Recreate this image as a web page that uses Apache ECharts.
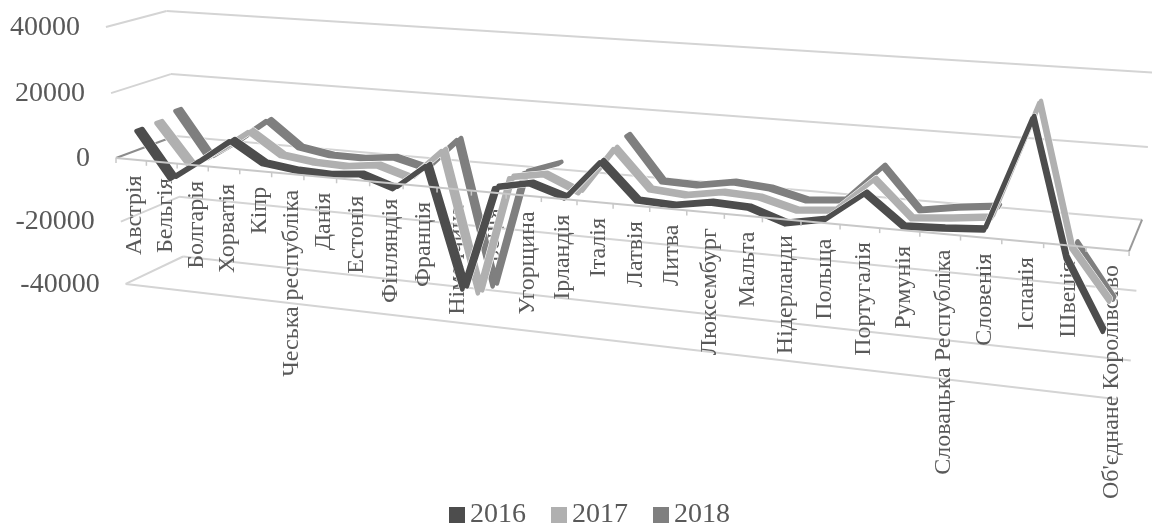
<!DOCTYPE html>
<html><head><meta charset="utf-8">
<style>html,body{margin:0;padding:0;background:#fff}#c{width:1152px;height:524px}</style>
<script src="https://cdn.jsdelivr.net/npm/echarts@6/dist/echarts.min.js"></script>
</head><body><div id="c"></div>
<script>
const categories=["Австрія","Бельгія","Болгарія","Хорватія","Кіпр","Чеська республіка","Данія","Естонія","Фінляндія","Франція","Німеччина","Греція","Угорщина","Ірландія","Італія","Латвія","Литва","Люксембург","Мальта","Нідерланди","Польща","Португалія","Румунія","Словацька Республіка","Словенія","Іспанія","Швеція","Об'єднане Королівство"];
const values2016=[7970,-6150,400,7330,1180,-90,-440,470,-2820,4960,-31070,250,2350,-850,10470,190,-280,1500,1060,-2450,-380,7830,-310,160,880,31600,-4650,-23400];
const values2017=[8240,-4490,1090,7840,1210,-90,-440,750,-2310,7030,-35420,680,2470,-1940,11850,810,-30,1780,1280,-1510,-530,9130,-820,160,1410,33420,-4860,-18400];
const values2018=[9900,-4360,1900,9070,1370,-280,-370,780,-1740,8010,-36380,-310,3300,null,13310,590,310,2120,1280,-1250,-310,10320,-1280,530,1780,null,-6590,-21040];
const valueTicks=[40000,20000,0,-20000,-40000];
const W=1152,H=524;
// perspective camera of the 3-D box: u along categories, w along values, d into the depth
function project(px,py,d){
  const u=px/W,w=1-2*py/H;
  const q=1-0.165*u-0.0195*w+0.0498*d;
  return [(116+826.8*u-12.1*w+67.7*d)/q,(158+51.6*u-131.5*w-15.2*d)/q];
}
const FONT='"Liberation Serif"';
const TXT='#595959';
const RIBBON=0.05;
function seg(a,b,color,width){
  return {type:'line',shape:{x1:a[0],y1:a[1],x2:b[0],y2:b[1]},style:{stroke:color,lineWidth:width}};
}
function lineSeries(name,vals,depth,color){
  return {type:'custom',name,coordinateSystem:'cartesian2d',silent:true,clip:false,
    itemStyle:{color},encode:{x:0,y:1},
    data:categories.map((c,i)=>[i,vals[i]===null?0:vals[i]]),
    renderItem(params,api){
      if(params.dataIndex!==0)return null;
      const runs=[];let cur=[];
      vals.forEach((v,i)=>{
        if(v===null){if(cur.length)runs.push(cur);cur=[];return;}
        cur.push(api.coord([i,v]));
      });
      if(cur.length)runs.push(cur);
      const children=[];
      runs.forEach(r=>{
        const front=r.map(p=>project(p[0],p[1],depth-RIBBON));
        const back=r.map(p=>project(p[0],p[1],depth+RIBBON)).reverse();
        const pts=front.concat(back);
        children.push({type:'polygon',shape:{points:pts},style:{fill:'#fff',stroke:'#fff',lineWidth:5.4,lineJoin:'round'}});
        children.push({type:'polygon',shape:{points:pts},style:{fill:color,stroke:color,lineWidth:4.4,lineJoin:'round'}});
      });
      return {type:'group',children};
    }};
}
const backdrop={type:'custom',name:'walls',coordinateSystem:'cartesian2d',silent:true,clip:false,encode:{x:0,y:1},data:[[0,0]],
  renderItem(params,api){
    const band=api.size([1,0])[0];
    const x0=api.coord([0,0])[0]-band/2, x1=api.coord([categories.length-1,0])[0]+band/2;
    const ch=[];
    valueTicks.forEach(v=>{
      const y=api.coord([0,v])[1];
      const a=project(x0,y,0),b=project(x0,y,1),c=project(x1,y,1);
      ch.push(seg(a,b,v===0?'#8c8c8c':'#d4d4d4',2));
      ch.push(seg(b,c,'#d4d4d4',2));
      ch.push({type:'text',x:a[0]-26,y:a[1]+0.5,style:{text:String(v),fontFamily:FONT,fontSize:28,fill:TXT,align:'right',verticalAlign:'middle'}});
    });
    const yB=api.coord([0,-40000])[1];
    ch.push(seg(project(x0,yB,0),project(x1,yB,0),'#d4d4d4',2));
    const y0=api.coord([0,0])[1];
    categories.forEach((c,i)=>{
      const p=project(api.coord([i,0])[0],y0,0);
      ch.push({type:'text',x:p[0]+4,y:p[1]+16,rotation:Math.PI/2,style:{text:c,fontFamily:FONT,fontSize:24,fill:TXT,align:'right',verticalAlign:'middle'}});
    });
    return {type:'group',children:ch};
  }};
const frontAxis={type:'custom',name:'axis',coordinateSystem:'cartesian2d',silent:true,clip:false,encode:{x:0,y:1},data:[[0,0]],
  renderItem(params,api){
    const band=api.size([1,0])[0];
    const x0=api.coord([0,0])[0]-band/2;
    const y0=api.coord([0,0])[1];
    const x1=x0+band*categories.length;
    const ch=[seg(project(x0,y0,0),project(x1,y0,0),'#c8c8c8',2),seg(project(x1,y0,0),project(x1,y0,1),'#999999',2)];
    for(let i=0;i<=categories.length;i++){
      const p=project(x0+band*i,y0,0);
      ch.push(seg(p,[p[0],p[1]+5],'#c8c8c8',1.5));
    }
    return {type:'group',children:ch};
  }};
const chart=echarts.init(document.getElementById('c'),null,{renderer:'canvas'});
chart.setOption({
  animation:false,backgroundColor:'#fff',
  grid:{left:0,top:0,width:W,height:H},
  xAxis:{type:'category',data:categories,show:false},
  yAxis:{type:'value',min:-40000,max:40000,interval:20000,show:false},
  legend:{data:['2016','2017','2018'],left:444,top:496,itemWidth:16,itemHeight:16,itemGap:25,icon:'rect',
    textStyle:{fontFamily:FONT,fontSize:28,color:TXT}},
  series:[backdrop,
    lineSeries('2018',values2018,5/6,'#7f7f7f'),
    lineSeries('2017',values2017,1/2,'#b0b0b0'),
    lineSeries('2016',values2016,1/6,'#4d4d4d'),
    frontAxis]
});
</script></body></html>
